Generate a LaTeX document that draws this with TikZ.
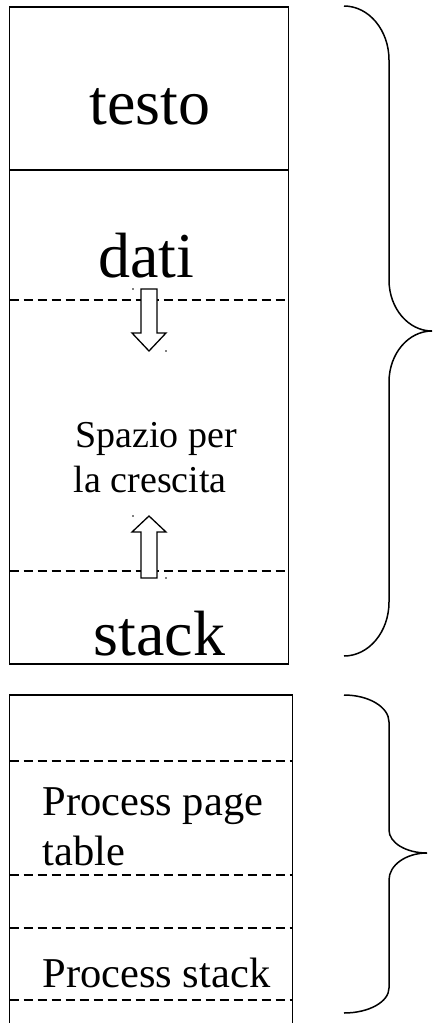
\documentclass[tikz,border=0pt]{standalone}
\usepackage{fontspec}
\setmainfont{Liberation Serif}
\begin{document}
\begin{tikzpicture}[x=1pt,y=-1pt,
  boxline/.style={line width=1.3pt},
  sepline/.style={line width=1.3pt, dash pattern=on 9pt off 5pt},
  bracestyle/.style={line width=1.5pt},
  arrowshape/.style={line width=1.3pt, fill=white, line join=miter},
  big/.style={font=\fontsize{64}{70}\selectfont, inner sep=0pt, anchor=base},
  mid/.style={font=\fontsize{38}{44}\selectfont, inner sep=0pt, anchor=base west},
  low/.style={font=\fontsize{42.5}{48}\selectfont, inner sep=0pt, anchor=base west},
  speck/.style={fill=black}]
\useasboundingbox (0,0) rectangle (432,1023);
% top box
\draw[boxline] (9.5,7) rectangle (288.7,664);
\draw[boxline] (9.5,170) -- (288.7,170);
\draw[sepline] (9.5,300) -- (288.7,300);
\draw[sepline] (9.5,571) -- (288.7,571);
% arrows
\draw[arrowshape] (141,289) -- (157,289) -- (157,333) -- (166,333) -- (149,351) -- (132,333) -- (141,333) -- cycle;
\draw[arrowshape] (141,578) -- (157,578) -- (157,532) -- (166,532) -- (149,516) -- (132,532) -- (141,532) -- cycle;
\fill[speck] (133,289) circle (0.8);
\fill[speck] (166,351) circle (0.8);
\fill[speck] (133,516) circle (0.8);
\fill[speck] (166,578) circle (0.8);
% texts
\node[big] (testo) at (150,124) {testo};
\node[big] (dati) at (146.5,277) {dati};
\node[big] (stack) at (159.5,655) {stack};
\node[mid] (spazio) at (75,447) {Spazio per};
\node[mid] (crescita) at (73.5,492) {la crescita};
% bottom box
\draw[boxline] (9.5,1024) -- (9.5,695) -- (292.7,695) -- (292.7,1024);
\draw[sepline] (9.5,761) -- (292.7,761);
\draw[sepline] (9.5,875) -- (292.7,875);
\draw[sepline] (9.5,928) -- (292.7,928);
\draw[sepline] (9.5,1000) -- (292.7,1000);
\node[low] (ppt) at (42.3,815) {Process page};
\node[low] (table) at (42.3,865) {table};
\node[low] (pstack) at (42.3,987) {Process stack};
% top brace
\draw[bracestyle] (344,6) .. controls (368.9,6) and (389,30.2) .. (389,60)
  -- (389,280) .. controls (389,308.2) and (408.3,331) .. (432,331)
  .. controls (408.3,331) and (389,353.8) .. (389,382)
  -- (389,602) .. controls (389,631.8) and (368.9,656) .. (344,656);
% bottom brace
\draw[bracestyle] (344,695) .. controls (368.9,695) and (389,707.1) .. (389,722)
  -- (389,830) .. controls (389,842.7) and (406,853) .. (427,853)
  .. controls (406,853) and (389,865.1) .. (389,880)
  -- (389,988) .. controls (389,1001.8) and (368.9,1013) .. (344,1013);
\end{tikzpicture}
\end{document}
